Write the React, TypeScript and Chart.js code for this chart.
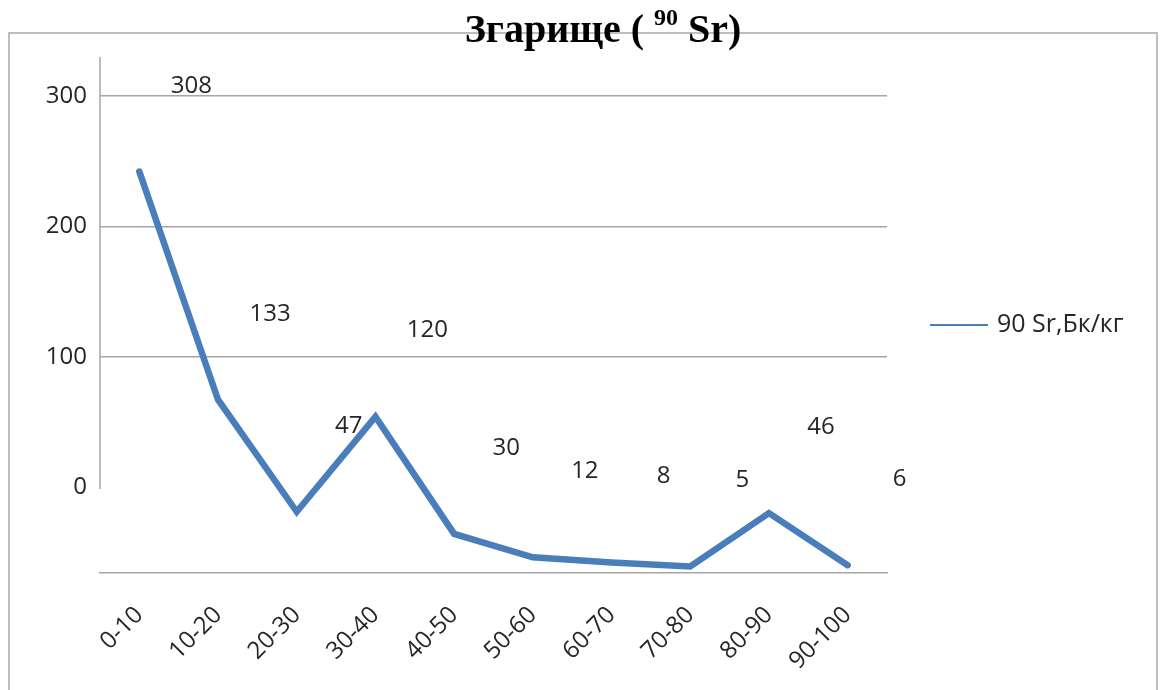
import React, { useEffect, useRef } from "react";
import { Chart, registerables } from "chart.js";

Chart.register(...registerables);

// Depth intervals (cm) and measured 90Sr activity in each layer
const categories = ["0-10", "10-20", "20-30", "30-40", "40-50", "50-60", "60-70", "70-80", "80-90", "90-100"];
const sr90Values = [308, 133, 47, 120, 30, 12, 8, 5, 46, 6];
const seriesLabel = "90 Sr,Бк/кг";

// Value axis: plotted range and the printed tick labels
const yAxisMax = 396;
const yTickValues = [0, 100, 200, 300];
const tickShift = 66; // printed tick labels sit this many units above the plotted baseline

const FONT = '"Open Sans", "Noto Sans", sans-serif';
const TEXT = "#262626";
const GRID = "#a6a6a6";
const LINE = "#4a7ebb";

const framePlugin = {
  id: "frame",
  beforeDraw(chart: any) {
    const ctx = chart.ctx;
    ctx.save();
    ctx.strokeStyle = "#bdbdbd";
    ctx.lineWidth = 2;
    ctx.strokeRect(9, 33, 1148, 700);
    ctx.restore();
  },
};

const axisLinePlugin = {
  id: "axisLine",
  beforeDatasetsDraw(chart: any) {
    const { ctx, chartArea } = chart;
    const y2 = chart.scales.y2;
    ctx.save();
    ctx.strokeStyle = GRID;
    ctx.lineWidth = 1.5;
    ctx.beginPath();
    ctx.moveTo(chartArea.left, chartArea.top);
    ctx.lineTo(chartArea.left, y2.getPixelForValue(0) + 2);
    ctx.stroke();
    ctx.restore();
  },
};

const valueLabelPlugin = {
  id: "valueLabels",
  afterDatasetsDraw(chart: any) {
    const ctx = chart.ctx;
    const meta = chart.getDatasetMeta(0);
    const values = chart.data.datasets[0].data as number[];
    ctx.save();
    ctx.font = `24px ${FONT}`;
    ctx.fillStyle = TEXT;
    ctx.textAlign = "center";
    ctx.textBaseline = "middle";
    meta.data.forEach((pt: any, i: number) => {
      ctx.fillText(String(values[i]), pt.x + 52, pt.y - 86);
    });
    ctx.restore();
  },
};

const titlePlugin = {
  id: "customTitle",
  afterDraw(chart: any) {
    const ctx = chart.ctx;
    const main1 = "Згарище ( ";
    const sup = "90";
    const main2 = " Sr)";
    const bigFont = 'bold 40px "Liberation Serif", "Times New Roman", serif';
    const supFont = 'bold 24px "Liberation Serif", "Times New Roman", serif';
    ctx.save();
    ctx.fillStyle = "#000";
    ctx.textBaseline = "alphabetic";
    ctx.textAlign = "left";
    ctx.font = bigFont;
    const w1 = ctx.measureText(main1).width;
    const w3 = ctx.measureText(main2).width;
    ctx.font = supFont;
    const w2 = ctx.measureText(sup).width;
    let x = 603 - (w1 + w2 + w3) / 2;
    const base = 42;
    ctx.font = bigFont;
    ctx.fillText(main1, x, base);
    x += w1;
    ctx.font = supFont;
    ctx.fillText(sup, x, base - 17);
    x += w2;
    ctx.font = bigFont;
    ctx.fillText(main2, x, base);
    ctx.restore();
  },
};

const legendPlugin = {
  id: "customLegend",
  afterDraw(chart: any) {
    const ctx = chart.ctx;
    const ds = chart.data.datasets[0];
    const y = 325;
    ctx.save();
    ctx.strokeStyle = ds.borderColor;
    ctx.lineWidth = 2;
    ctx.beginPath();
    ctx.moveTo(930, y);
    ctx.lineTo(988, y);
    ctx.stroke();
    ctx.font = `25px ${FONT}`;
    ctx.fillStyle = TEXT;
    ctx.textAlign = "left";
    ctx.textBaseline = "middle";
    ctx.fillText(ds.label, 997, y);
    ctx.restore();
  },
};

export default function App() {
  const canvasRef = useRef<HTMLCanvasElement | null>(null);

  useEffect(() => {
    if (!canvasRef.current) return;
    const chart = new Chart(canvasRef.current, {
      type: "line",
      data: {
        labels: categories,
        datasets: [
          {
            label: seriesLabel,
            data: sr90Values,
            borderColor: LINE,
            backgroundColor: LINE,
            borderWidth: 6.5,
            pointRadius: 0,
            tension: 0,
            borderJoinStyle: "miter",
            borderCapStyle: "round",
            yAxisID: "y",
          },
        ],
      },
      options: {
        responsive: false,
        devicePixelRatio: 1,
        animation: false,
        layout: { padding: { left: 0, top: 57, right: 278, bottom: 0 } },
        plugins: {
          legend: { display: false },
          title: { display: false },
          tooltip: { enabled: false },
        },
        scales: {
          x: {
            type: "category",
            offset: true,
            grid: { display: false, drawTicks: false },
            border: { display: true, color: GRID, width: 1.5 },
            ticks: {
              font: { family: FONT, size: 24 },
              color: TEXT,
              minRotation: 45,
              maxRotation: 45,
              autoSkip: false,
              padding: 28,
            },
            afterFit: (s: any) => {
              s.height = 117;
            },
          },
          y: {
            type: "linear",
            display: false,
            min: 0,
            max: yAxisMax,
          },
          y2: {
            type: "linear",
            position: "left",
            min: -tickShift,
            max: yAxisMax - tickShift,
            afterBuildTicks: (s: any) => {
              s.ticks = yTickValues.map((v) => ({ value: v }));
            },
            grid: {
              drawTicks: false,
              lineWidth: 1.5,
              color: (c: any) => (c.tick && c.tick.value === 0 ? "rgba(0,0,0,0)" : GRID),
            },
            border: { display: false },
            ticks: {
              padding: 13,
              font: { family: FONT, size: 24 },
              color: TEXT,
              callback: (v: any) => String(v),
            },
            afterFit: (s: any) => {
              s.width = 100;
            },
          },
        },
      },
      plugins: [framePlugin, axisLinePlugin, valueLabelPlugin, titlePlugin, legendPlugin],
    } as any);
    return () => chart.destroy();
  }, []);

  return (
    <canvas
      ref={canvasRef}
      width={1165}
      height={690}
      style={{ position: "fixed", left: 0, top: 0, display: "block", background: "#fff" }}
    />
  );
}
